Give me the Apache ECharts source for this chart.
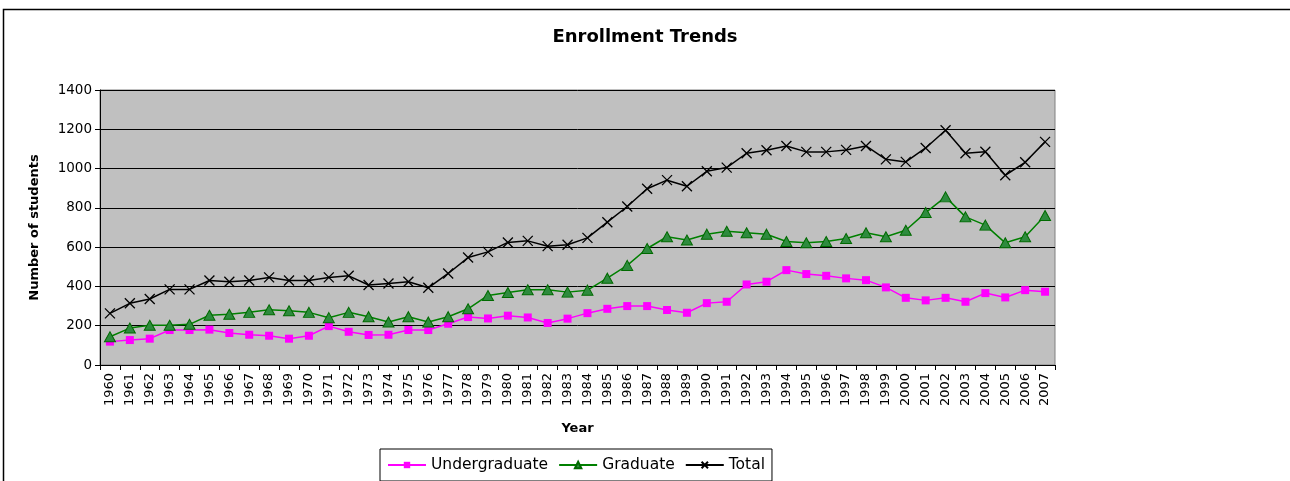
<!DOCTYPE html>
<html>
<head>
<meta charset="utf-8">
<script src="https://cdn.jsdelivr.net/npm/echarts@6/dist/echarts.min.js"></script>
<style>
html,body{margin:0;padding:0;background:#fff;}
#chart{width:1290px;height:481px;}
</style>
</head>
<body>
<div id="chart"></div>
<script>
const years = ['1960','1961','1962','1963','1964','1965','1966','1967','1968','1969','1970','1971','1972','1973','1974','1975','1976','1977','1978','1979','1980','1981','1982','1983','1984','1985','1986','1987','1988','1989','1990','1991','1992','1993','1994','1995','1996','1997','1998','1999','2000','2001','2002','2003','2004','2005','2006','2007'];
const undergraduate = [119,127,134,178,178,180,163,154,149,134,149,198,169,153,154,178,178,210,244,237,251,242,214,236,264,286,300,300,280,266,315,322,410,424,483,463,454,441,432,395,342,329,342,322,366,344,381,373];
const graduate = [144,188,202,202,207,253,258,268,281,276,268,241,268,246,219,246,219,246,286,354,369,383,383,371,381,442,507,593,653,636,666,681,673,666,629,622,629,644,673,653,686,776,856,754,712,622,653,761];
const total = [263,314,336,385,385,430,424,430,446,430,430,446,454,407,415,424,393,466,547,576,624,632,605,612,647,727,807,897,941,910,986,1005,1078,1093,1115,1085,1085,1095,1115,1047,1034,1105,1195,1078,1086,966,1032,1136];
const yTicks = {min:0, max:1400, interval:200};

const FONT = 'DejaVu Sans';
const chart = echarts.init(document.getElementById('chart'), null, {renderer:'canvas'});
chart.setOption({
  animation:false,
  backgroundColor:'#fff',
  graphic:[{
    type:'rect', left:1, top:7, silent:true,
    shape:{width:1300, height:500},
    style:{fill:'none', stroke:'#000', lineWidth:1.5}
  }],
  title:{
    text:'Enrollment Trends', left:'center', top:23,
    textStyle:{fontFamily:FONT, fontSize:18, fontWeight:'bold', color:'#000'}
  },
  grid:{
    left:100, right:235, top:90, bottom:116,
    show:true, backgroundColor:'#C0C0C0', borderColor:'#808080', borderWidth:1
  },
  legend:{
    left:380, top:449,
    borderColor:'#000', borderWidth:1,
    padding:[8,7,8,7],
    itemWidth:38, itemHeight:8, itemGap:10,
    textStyle:{fontFamily:FONT, fontSize:15.5, color:'#000'},
    data:['Undergraduate','Graduate','Total']
  },
  xAxis:{
    type:'category', data:years, boundaryGap:true,
    name:'Year', nameLocation:'middle', nameGap:57,
    nameTextStyle:{fontFamily:FONT, fontSize:13, fontWeight:'bold', color:'#000'},
    axisLine:{lineStyle:{color:'#000', width:1}},
    axisTick:{show:true, length:5, lineStyle:{color:'#000'}},
    axisLabel:{rotate:90, margin:8, interval:0, fontFamily:FONT, fontSize:13, color:'#000'},
    splitLine:{show:false}
  },
  yAxis:{
    type:'value', min:yTicks.min, max:yTicks.max, interval:yTicks.interval,
    name:'Number of students', nameLocation:'middle', nameGap:59, nameRotate:90,
    nameTextStyle:{fontFamily:FONT, fontSize:13, fontWeight:'bold', color:'#000'},
    axisLine:{show:true, lineStyle:{color:'#000', width:1}},
    axisTick:{show:true, length:5, lineStyle:{color:'#000'}},
    axisLabel:{margin:8, fontFamily:FONT, fontSize:13.5, color:'#000', formatter:function(v){return String(v);}},
    splitLine:{show:true, lineStyle:{color:'#000', width:1}}
  },
  series:[
    {
      name:'Undergraduate', type:'line', data:undergraduate,
      symbol:'rect', symbolSize:8,
      lineStyle:{color:'#FF00FF', width:1.5},
      itemStyle:{color:'#FF00FF', borderColor:'#FF00FF', borderWidth:0}
    },
    {
      name:'Graduate', type:'line', data:graduate,
      symbol:'triangle', symbolSize:[11,10],
      lineStyle:{color:'#008000', width:1.5},
      itemStyle:{color:'#2E8B3E', borderColor:'#006A00', borderWidth:1}
    },
    {
      name:'Total', type:'line', data:total,
      symbol:'path://M0,0L10,10M10,0L0,10', symbolSize:10,
      lineStyle:{color:'#000', width:1.5},
      itemStyle:{color:'#000', borderColor:'#000', borderWidth:1.3}
    }
  ]
});
</script>
</body>
</html>
